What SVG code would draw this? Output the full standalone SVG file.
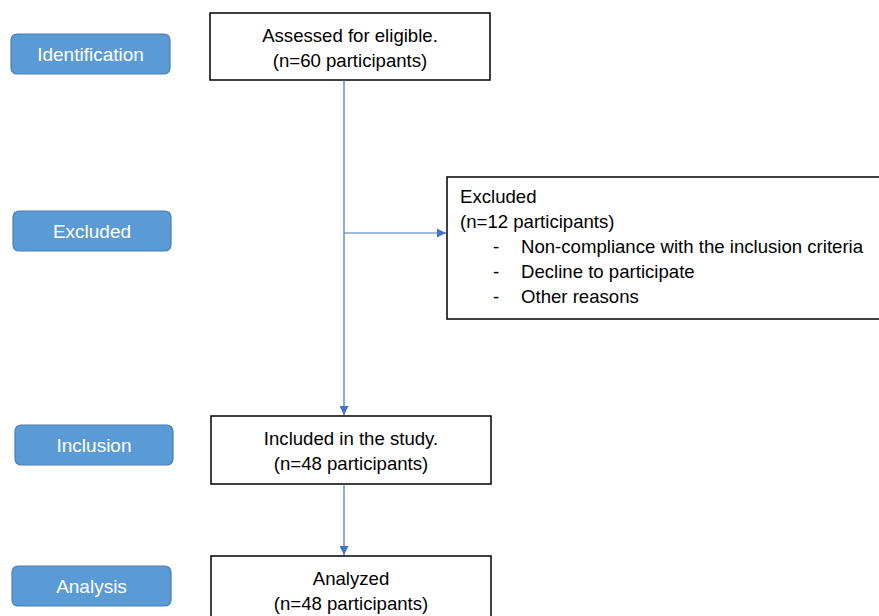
<svg xmlns="http://www.w3.org/2000/svg" width="879" height="616" viewBox="0 0 879 616">
<style>
.pill{fill:#5b9bd5;stroke:#4a7fb0;stroke-width:1.2}
.pt{font-family:"Liberation Sans",Arial,sans-serif;font-size:19px;fill:#ffffff;text-anchor:middle}
.box{fill:#ffffff;stroke:#000000;stroke-width:1.5}
.t{font-family:"Liberation Sans",Arial,sans-serif;font-size:18.6px;fill:#000000}
.c{text-anchor:middle}
.ln{stroke:#4472c4;stroke-width:1.2;fill:none}
</style>
<defs>
<marker id="ah" viewBox="0 0 10 10" refX="10" refY="5" markerWidth="9" markerHeight="9" markerUnits="userSpaceOnUse" orient="auto">
<path d="M0,0 L10,5 L0,10 z" fill="#4472c4"/>
</marker>
</defs>
<rect width="879" height="616" fill="#ffffff"/>
<g id="stage-identification"><rect class="pill" x="11" y="34" width="159" height="40" rx="6"/><text class="pt" x="90.5" y="61">Identification</text></g>
<g id="stage-excluded"><rect class="pill" x="13" y="211" width="158" height="40" rx="6"/><text class="pt" x="92" y="238">Excluded</text></g>
<g id="stage-inclusion"><rect class="pill" x="15" y="425" width="158" height="40" rx="6"/><text class="pt" x="94" y="452">Inclusion</text></g>
<g id="stage-analysis"><rect class="pill" x="12" y="566" width="159" height="40" rx="6"/><text class="pt" x="91.5" y="593">Analysis</text></g>
<g id="assessed"><rect class="box" x="210" y="13" width="280" height="67"/><text class="t c" x="350" y="42">Assessed for eligible.</text><text class="t c" x="350" y="67">(n=60 participants)</text></g>
<g id="excluded"><rect class="box" x="447" y="177" width="440" height="142"/>
<text class="t" x="460" y="203">Excluded</text>
<text class="t" x="460" y="228">(n=12 participants)</text>
<text class="t" x="493" y="253">-</text><text class="t" x="521" y="253">Non-compliance with the inclusion criteria</text>
<text class="t" x="493" y="278">-</text><text class="t" x="521" y="278">Decline to participate</text>
<text class="t" x="493" y="303">-</text><text class="t" x="521" y="303">Other reasons</text></g>
<g id="included"><rect class="box" x="211" y="416" width="280" height="68"/><text class="t c" x="351" y="445">Included in the study.</text><text class="t c" x="351" y="470">(n=48 participants)</text></g>
<g id="analyzed"><rect class="box" x="211" y="556" width="280" height="70"/><text class="t c" x="351" y="585">Analyzed</text><text class="t c" x="351" y="610">(n=48 participants)</text></g>
<g id="connectors">
<line class="ln" x1="344" y1="80" x2="344" y2="415" marker-end="url(#ah)"/>
<line class="ln" x1="344" y1="233" x2="446" y2="233" marker-end="url(#ah)"/>
<line class="ln" x1="344" y1="484" x2="344" y2="555" marker-end="url(#ah)"/>
</g>
</svg>
